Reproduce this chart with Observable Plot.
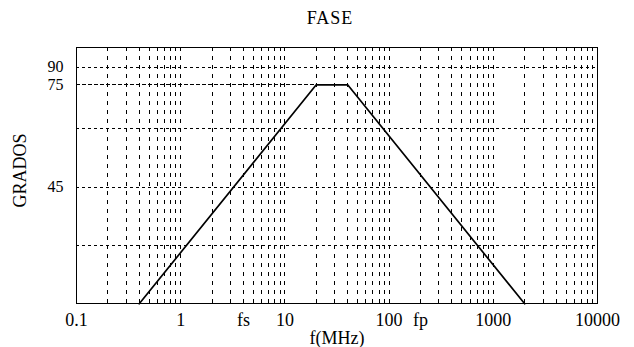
<!DOCTYPE html>
<html><head><meta charset="utf-8">
<script src="https://cdn.jsdelivr.net/npm/d3@7"></script>
<script src="https://cdn.jsdelivr.net/npm/@observablehq/plot@0.6"></script>
<style>
body{margin:0;background:#fff;font-family:"Liberation Serif","Times New Roman",serif;}
#title{height:30px;width:608px;padding-left:26px;text-align:center;font-size:18px;letter-spacing:1px;line-height:36px;color:#000;}
#chart svg{display:block;font-family:"Liberation Serif","Times New Roman",serif;}
</style></head><body>
<div id="title">FASE</div>
<div id="chart"></div>
<script>
// Asymptotic phase curve (frequency in MHz, phase in degrees)
const freq = [0.4, 20, 40, 2000];
const phase = [0, 75, 75, 0];
// 75° guide line up to the start of the plateau
const guideFreq = [0.1, 20];
const guidePhase = [75, 75];
// Axis ticks
const xTicks = [0.1, 1, 4, 10, 100, 200, 1000, 10000];
const xTickLabels = ["0.1", "1", "fs", "10", "100", "fp", "1000", "10000"];
const yTicks = [45, 75, 90];
const yGrid = [22.5, 45, 67.5, 90];
// Log grid
const decades = [0.1, 1, 10, 100, 1000];
const multipliers = [1, 2, 3, 4, 5, 6, 7, 8, 9];

const curve = freq.map((f, i) => ({f, p: phase[i]}));
const guide = guideFreq.map((f, i) => ({f, p: guidePhase[i]}));
const gridX = decades.flatMap(d => multipliers.map(m => +(d * m).toPrecision(3)));
const xLabelRows = xTicks.map((v, i) => ({v, t: xTickLabels[i]}));

const chart = Plot.plot({
  width: 634,
  height: 317,
  marginLeft: 76,
  marginRight: 37,
  marginTop: 17,
  marginBottom: 44,
  style: {fontFamily: '"Liberation Serif","Times New Roman",serif', fontSize: "18px", color: "#000", background: "#fff"},
  x: {type: "log", domain: [0.1, 10000], axis: null},
  y: {type: "linear", domain: [0, 67.5, 75, 90, 97.5], range: [273.3, 98.3, 54.3, 36.7, 17.3]},
  marks: [
    Plot.ruleX(gridX, {stroke: "#000", strokeWidth: 1, strokeDasharray: "4,5", shapeRendering: "crispEdges"}),
    Plot.ruleY(yGrid, {stroke: "#000", strokeWidth: 1, strokeDasharray: "3,3", shapeRendering: "crispEdges"}),
    Plot.line(guide, {x: "f", y: "p", stroke: "#000", strokeWidth: 1, strokeDasharray: "3,3", shapeRendering: "crispEdges"}),
    Plot.line(curve, {x: "f", y: "p", stroke: "#000", strokeWidth: 1.7}),
    Plot.frame({stroke: "#000", strokeWidth: 1, shapeRendering: "crispEdges"}),
    Plot.text(xLabelRows, {x: "v", text: "t", frameAnchor: "bottom", lineAnchor: "top", dy: 10, fontSize: 18, fill: "#000"}),
    Plot.text(["f(MHz)"], {text: d => d, frameAnchor: "bottom", lineAnchor: "middle", dy: 35, fontSize: 18, fill: "#000"}),
    Plot.text(["GRADOS"], {text: d => d, frameAnchor: "left", rotate: -90, textAnchor: "middle", lineAnchor: "middle", dx: -56, dy: -5, fontSize: 18, fill: "#000"}),
    Plot.axisY(yTicks, {tickSize: 0, tickPadding: 13, fontSize: 16, label: null})
  ]
});
document.getElementById("chart").appendChild(chart);
</script>
</body></html>
